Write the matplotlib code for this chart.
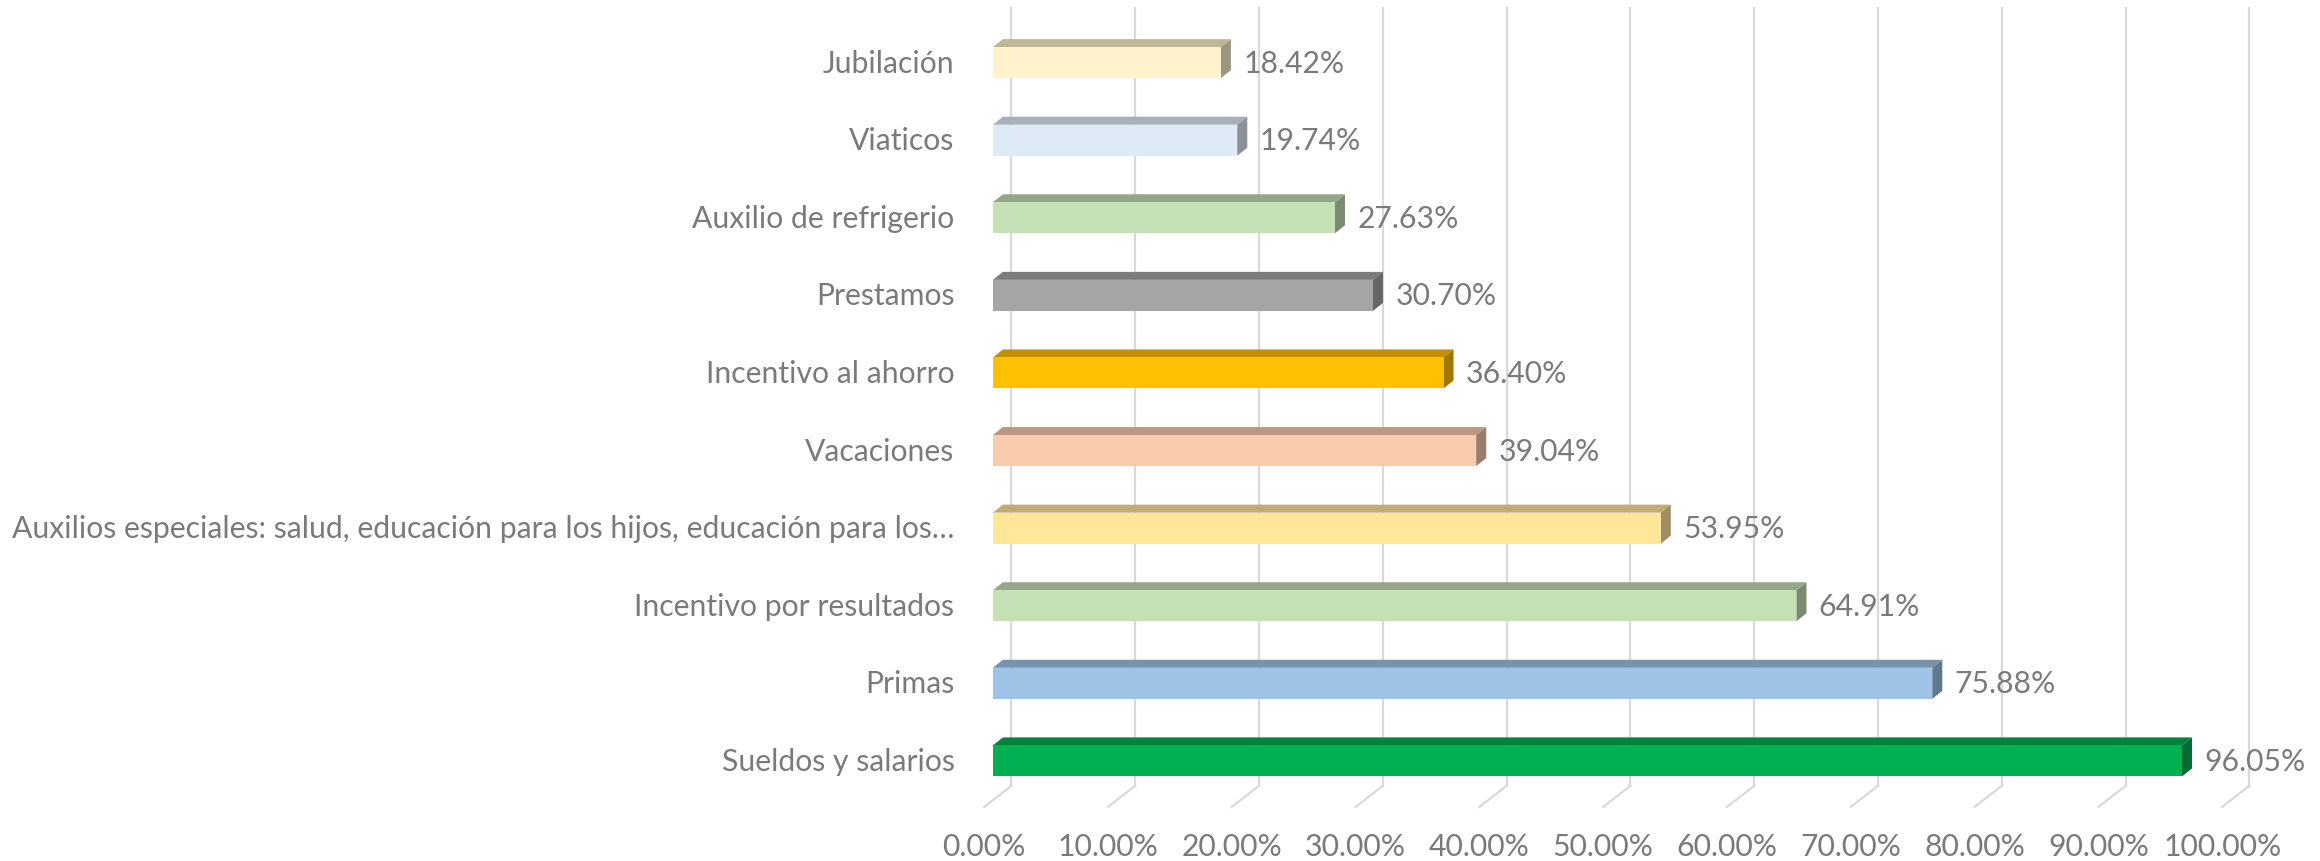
import numpy as np
import matplotlib.pyplot as plt
from matplotlib.patches import Rectangle, Polygon
from matplotlib.colors import to_rgb

# Datos del grafico (de abajo hacia arriba)
categorias = ['Sueldos y salarios', 'Primas', 'Incentivo por resultados',
              'Auxilios especiales: salud, educación para los hijos, educación para los…',
              'Vacaciones', 'Incentivo al ahorro', 'Prestamos',
              'Auxilio de refrigerio', 'Viaticos', 'Jubilación']
valores = [96.05, 75.88, 64.91, 53.95, 39.04, 36.40, 30.70, 27.63, 19.74, 18.42]
colores = ['#00B050', '#9DC3E6', '#C5E0B4', '#FFE699', '#F8CBAD',
           '#FFC000', '#A5A5A5', '#C5E0B4', '#DEEBF7', '#FFF2CC']
ticks = np.arange(0, 101, 10)

gris = '#7A7A7A'
fuente = ['Lato', 'DejaVu Sans']
tam = 21.7

def oscurecer(c, f):
    r, g, b = to_rgb(c)
    return (r*f, g*f, b*f)

fig = plt.figure(figsize=(23.2, 8.62), dpi=100)
ax = fig.add_axes([0, 0, 1, 1])
ax.set_xlim(-80.2, 107.2)
ax.set_ylim(-1.29, 9.82)
ax.axis('off')

# profundidad del efecto 3D
dx, dy = 0.81, 0.103
h = 0.40
fondo = 1.5        # pared del fondo desplazada
piso_x, piso_y = -0.7, -0.593
base_y, techo_y = -0.32, 9.70

# Lineas de la cuadricula (pared y piso)
for t in ticks:
    ax.plot([t + fondo, t + fondo], [base_y, techo_y], color='#D9D9D9', lw=1.6, zorder=1)
    ax.plot([t + fondo, t + piso_x], [base_y, piso_y], color='#D9D9D9', lw=1.6, zorder=1)
    ax.text(t + piso_x, -1.10, f'{t:.2f}%', ha='center', va='center',
            fontsize=tam, color=gris, family=fuente)

# Barras con efecto 3D
for i, (cat, v, c) in enumerate(zip(categorias, valores, colores)):
    y0, y1 = i - h/2, i + h/2
    ax.add_patch(Polygon([(0, y1), (v, y1), (v + dx, y1 + dy), (dx, y1 + dy)],
                         closed=True, fc=oscurecer(c, 0.75), ec='none', zorder=3))
    ax.add_patch(Polygon([(v, y0), (v + dx, y0 + dy), (v + dx, y1 + dy), (v, y1)],
                         closed=True, fc=oscurecer(c, 0.62), ec='none', zorder=3))
    ax.add_patch(Rectangle((0, y0), v, h, fc=c, ec='none', zorder=4))
    ax.text(v + 1.8, i, f'{v:.2f}%', ha='left', va='center',
            fontsize=tam, color=gris, family=fuente)
    ax.text(-3.1, i, cat, ha='right', va='center',
            fontsize=tam, color=gris, family=fuente)

fig.savefig('out.png', dpi=100)
